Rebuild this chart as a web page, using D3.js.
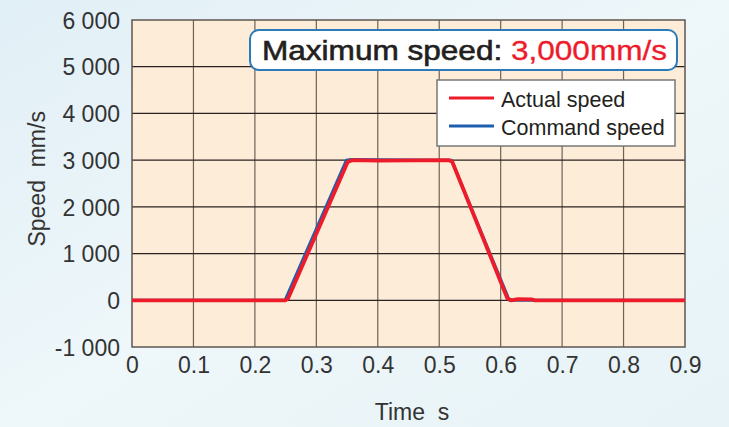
<!DOCTYPE html>
<html lang="en">
<head>
<meta charset="UTF-8">
<title>Speed profile</title>
<script src="https://d3js.org/d3.v7.min.js"></script>
<style>
  body { margin: 0; background: #e9f4f8; }
  svg { display: block; font-family: "Liberation Sans", Arial, sans-serif; }
</style>
</head>
<body>
<script>
// data
const xTicks = [0, 0.1, 0.2, 0.3, 0.4, 0.5, 0.6, 0.7, 0.8, 0.9]
const yTicks = [-1000, 0, 1000, 2000, 3000, 4000, 5000, 6000]

const actualTime  = [0, 0.250, 0.254, 0.351, 0.358, 0.40, 0.515, 0.521, 0.611, 0.617, 0.628, 0.65, 0.656, 0.9]
const actualSpeed = [0, 0, 40, 2960, 3000, 2990, 3000, 2970, 40, 0, 25, 20, 0, 0]
const commandTime  = [0, 0.249, 0.349, 0.356, 0.52, 0.614, 0.9]
const commandSpeed = [0, 0, 3000, 3015, 3000, 0, 0]

const series = [
  { name: "Command speed", color: "#1d5fae", width: 3, t: commandTime, v: commandSpeed },
  { name: "Actual speed", color: "#ee1c2b", width: 3.8, t: actualTime, v: actualSpeed }
]

const width = 729, height = 427
const margin = { left: 132, right: 44, top: 20, bottom: 80 }
const pw = width - margin.left - margin.right
const ph = height - margin.top - margin.bottom

const svg = d3.select("body").append("svg")
  .attr("width", width).attr("height", height)

// soft blue backdrop
const defs = svg.append("defs")
const grad = defs.append("linearGradient").attr("id", "bg")
  .attr("x1", 0).attr("y1", 0).attr("x2", 1).attr("y2", 1)
grad.append("stop").attr("offset", 0).attr("stop-color", "#e1eff6")
grad.append("stop").attr("offset", 0.5).attr("stop-color", "#eef7fa")
grad.append("stop").attr("offset", 1).attr("stop-color", "#e7f3f7")
svg.append("rect").attr("width", width).attr("height", height).attr("fill", "url(#bg)")

defs.append("clipPath").attr("id", "clip")
  .append("rect").attr("width", pw).attr("height", ph)

const x = d3.scaleLinear().domain([0, 0.9]).range([0, pw])
const y = d3.scaleLinear().domain([-1000, 6000]).range([ph, 0])

const g = svg.append("g").attr("transform", `translate(${margin.left},${margin.top})`)

g.append("rect").attr("width", pw).attr("height", ph).attr("fill", "#fdecd8")

// grid
g.selectAll(".vgrid").data(xTicks.slice(1, -1)).enter().append("line")
  .attr("x1", d => x(d)).attr("x2", d => x(d))
  .attr("y1", 0).attr("y2", ph)
  .attr("stroke", "#6e6259").attr("stroke-width", 1.2)
g.selectAll(".hgrid").data(yTicks.slice(1, -1)).enter().append("line")
  .attr("x1", 0).attr("x2", pw)
  .attr("y1", d => y(d)).attr("y2", d => y(d))
  .attr("stroke", "#2a2220").attr("stroke-width", 1.2)

g.append("rect").attr("width", pw).attr("height", ph)
  .attr("fill", "none").attr("stroke", "#5e5650").attr("stroke-width", 1.5)

// axes labels
const xAxis = d3.axisBottom(x).tickValues(xTicks).tickSize(0).tickPadding(10)
  .tickFormat(d => d === 0 ? "0" : d3.format(".1f")(d))
const xg = g.append("g").attr("transform", `translate(0,${ph})`).call(xAxis)
xg.select(".domain").remove()
xg.selectAll("text").attr("font-size", 23).attr("fill", "#333").attr("font-family", null)

const yAxis = d3.axisLeft(y).tickValues(yTicks).tickSize(0).tickPadding(12)
  .tickFormat(d => d3.format(",")(d).replace(/,/g, " ").replace("−", "-"))
const yg = g.append("g").call(yAxis)
yg.select(".domain").remove()
yg.selectAll("text").attr("font-size", 23).attr("fill", "#333").attr("font-family", null)
  .attr("dy", "0.36em")

svg.append("text").attr("x", 412).attr("y", 420)
  .attr("text-anchor", "middle").attr("font-size", 23).attr("fill", "#333")
  .attr("xml:space", "preserve").text("Time  s")
svg.append("text").attr("transform", `translate(45,${margin.top + y(2600)}) rotate(-90)`)
  .attr("text-anchor", "middle").attr("font-size", 23).attr("fill", "#333")
  .attr("xml:space", "preserve").text("Speed  mm/s")

// lines
const line = d3.line().x(d => x(d[0])).y(d => y(d[1]))
const lines = g.append("g").attr("clip-path", "url(#clip)")
series.forEach(s => {
  lines.append("path")
    .datum(s.t.map((t, i) => [t, s.v[i]]))
    .attr("fill", "none").attr("stroke", s.color).attr("stroke-width", s.width)
    .attr("stroke-linejoin", "round")
    .attr("d", line)
})

// title box
const title = svg.append("g")
title.append("rect").attr("x", 250).attr("y", 30).attr("width", 427).attr("height", 40)
  .attr("rx", 9).attr("fill", "#fff").attr("stroke", "#2b7bbb").attr("stroke-width", 2)
const tt = title.append("text").attr("x", 262).attr("y", 60)
  .attr("font-size", 28).attr("textLength", 405).attr("lengthAdjust", "spacingAndGlyphs")
  .attr("xml:space", "preserve")
tt.append("tspan").attr("fill", "#231f20").attr("stroke", "#231f20").attr("stroke-width", 0.6)
  .text("Maximum speed: ")
tt.append("tspan").attr("fill", "#ee1c2b").attr("stroke", "#ee1c2b").attr("stroke-width", 0.3)
  .text("3,000mm/s")

// legend
const lg = svg.append("g")
lg.append("rect").attr("x", 437).attr("y", 80).attr("width", 238).attr("height", 66)
  .attr("fill", "#fff").attr("stroke", "#777").attr("stroke-width", 1.5)
const legendItems = [series[1], series[0]]
legendItems.forEach((s, i) => {
  const yy = 98 + i * 28
  lg.append("line").attr("x1", 449).attr("x2", 494).attr("y1", yy).attr("y2", yy)
    .attr("stroke", s.color).attr("stroke-width", 3)
  lg.append("text").attr("x", 501).attr("y", yy + 9).attr("font-size", 21.5)
    .attr("fill", "#231f20").text(s.name)
})
</script>
</body>
</html>
